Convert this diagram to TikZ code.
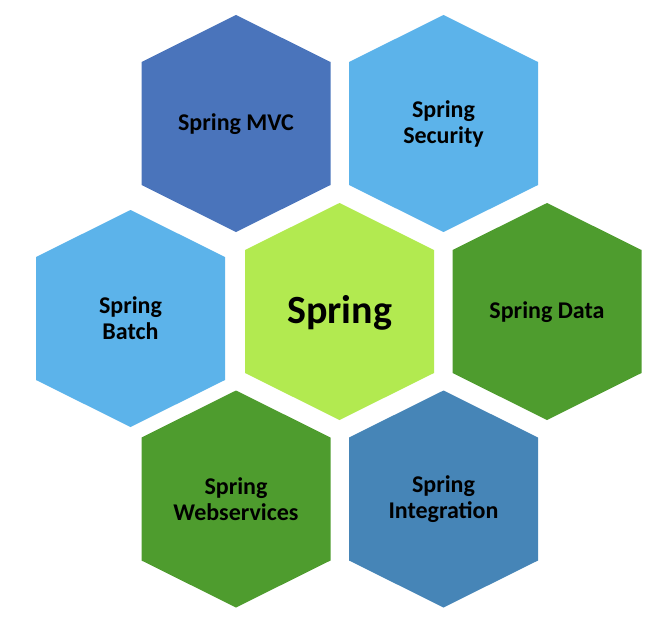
\documentclass[tikz,border=0pt]{standalone}
\usepackage{fontspec}
\setmainfont{Carlito}
\definecolor{mvcblue}{RGB}{74,116,187}
\definecolor{skyblue}{RGB}{92,179,234}
\definecolor{limegreen}{RGB}{178,234,80}
\definecolor{leafgreen}{RGB}{78,156,46}
\definecolor{steelblue}{RGB}{70,133,183}
\tikzset{
  hexlabel/.style={font=\bfseries\fontsize{24}{26}\selectfont, align=center, text=black, inner sep=0pt},
  biglabel/.style={font=\bfseries\fontsize{40}{44}\selectfont, align=center, text=black, inner sep=0pt},
  hexcell/.pic={\fill (0,-108.5) -- (94.5,-61.5) -- (94.5,61.5) -- (0,108.5) -- (-94.5,61.5) -- (-94.5,-61.5) -- cycle;}
}
\begin{document}
\begin{tikzpicture}[x=1pt,y=-1pt]
\useasboundingbox (0,0) rectangle (672,634);
\pic[fill=mvcblue] at (236,123.5) {hexcell};
\pic[fill=skyblue] at (443.5,123.5) {hexcell};
\pic[fill=skyblue] at (130.5,318.5) {hexcell};
\pic[fill=limegreen] at (339.5,311.5) {hexcell};
\pic[fill=leafgreen] at (547,311.5) {hexcell};
\pic[fill=leafgreen] at (236,499) {hexcell};
\pic[fill=steelblue] at (443.5,499) {hexcell};
\node[hexlabel] (mvc) at (236,124.5) {Spring MVC};
\node[hexlabel] (security) at (443.5,124) {Spring\\Security};
\node[hexlabel] (batch) at (130.5,318) {Spring\\Batch};
\node[biglabel] (spring) at (339.5,312.5) {Spring};
\node[hexlabel] (data) at (547,312) {Spring Data};
\node[hexlabel] (web) at (236,499) {Spring\\Webservices};
\node[hexlabel] (integration) at (443.5,499) {Spring\\Integration};
\end{tikzpicture}
\end{document}
